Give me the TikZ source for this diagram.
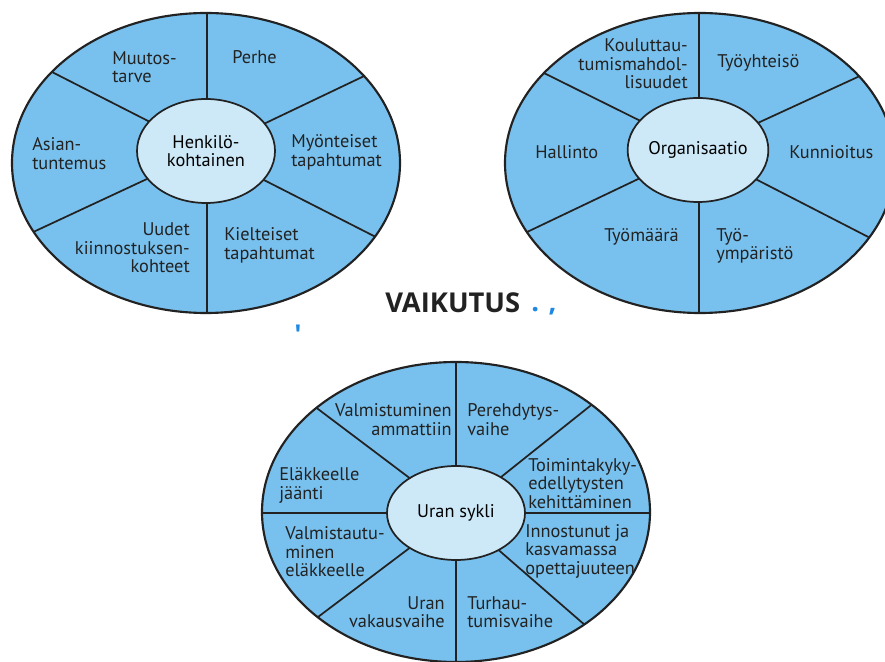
\documentclass[tikz,border=0pt]{standalone}
\usepackage{fontspec}
\setmainfont{PT Sans}
\newfontfamily\headfont{Open Sans}
\usetikzlibrary{shapes.geometric}
\definecolor{rimblue}{HTML}{78C1EE}
\definecolor{hubblue}{HTML}{CDE9F8}
\definecolor{inkgrey}{HTML}{222222}
\definecolor{dotblue}{HTML}{1E88E5}
\tikzstyle{rim}=[ellipse, draw=inkgrey, line width=1.6pt, fill=rimblue, inner sep=0pt]
\tikzstyle{hub}=[ellipse, draw=inkgrey, line width=1.3pt, fill=hubblue, inner sep=0pt, align=center, font=\fontsize{13.75}{13.9}\selectfont]
\tikzstyle{spoke}=[draw=inkgrey, line width=1.3pt]
\tikzstyle{sector}=[inner sep=0pt, font=\fontsize{13.75}{13.9}\selectfont, text=inkgrey]
\tikzstyle{sector left}=[sector, anchor=west, align=left]
\tikzstyle{sector right}=[sector, anchor=east, align=right]

\begin{document}
\begin{tikzpicture}[x=0.75pt, y=0.75pt]
      \clip (0, 0) rectangle (885, 661);
      \fill[white] (0, 0) rectangle (885, 661);

      % henkilokohtainen
      \node[rim, minimum width=291pt, minimum height=225pt] (ho) at (206, 498) {};
      \coordinate (hc) at (207, 510);
      \begin{scope}
        \clip (ho.center) ellipse [x radius=194, y radius=150];
        \foreach \a in {90, 25.5, -27, -90, 205, 153}
          \draw[spoke] (hc) -- +(\a:300);
      \end{scope}
      \node[hub, minimum width=103.5pt, minimum height=78pt] (hi) at (206, 510) {Henkilö-\\kohtainen};
      \node[sector left] (muutos) at (112, 594) {Muutos-\\tarve};
      \node[sector left] (perhe) at (232, 604) {Perhe};
      \node[sector left] (asian) at (32, 507.5) {Asian-\\tuntemus};
      \node[sector left] (myont) at (291, 508.5) {Myönteiset\\tapahtumat};
      \node[sector right] (uudet) at (190, 413) {Uudet\\kiinnostuksen-\\kohteet};
      \node[sector left] (kielt) at (224, 415.5) {Kielteiset\\tapahtumat};

      % organisaatio
      \node[rim, minimum width=292.5pt, minimum height=225pt] (oo) at (700, 498) {};
      \coordinate (oc) at (699, 511);
      \begin{scope}
        \clip (oo.center) ellipse [x radius=195, y radius=150];
        \foreach \a in {90, 24.7, -27.2, -90, 205.5, 153.6}
          \draw[spoke] (oc) -- +(\a:300);
      \end{scope}
      \node[hub, minimum width=103.5pt, minimum height=78pt] (oi) at (698, 511) {Organisaatio};
      \node[sector right] (koul) at (688, 597) {Kouluttau-\\tumismahdol-\\lisuudet};
      \node[sector left] (tyoyht) at (717, 598) {Työyhteisö};
      \node[sector left] (hall) at (535, 509) {Hallinto};
      \node[sector left] (kunn) at (789, 509) {Kunnioitus};
      \node[sector left] (tyomaara) at (604, 424) {Työmäärä};
      \node[sector left] (tyoymp) at (716, 415) {Työ-\\ympäristö};

      % uran sykli
      \node[rim, minimum width=291pt, minimum height=225pt] (uo) at (456, 149) {};
      \coordinate (uc) at (456, 148);
      \begin{scope}
        \clip (uo.center) ellipse [x radius=194, y radius=150];
        \foreach \a in {90, 38.6, 0, -41, -90, 217, 180, 143}
          \draw[spoke] (uc) -- +(\a:300);
      \end{scope}
      \node[hub, minimum width=103.5pt, minimum height=70.5pt] (ui) at (456, 148) {Uran sykli};
      \node[sector right] (valm) at (452, 241.5) {Valmistuminen\\ammattiin};
      \node[sector left] (pere) at (467, 241.5) {Perehdytys-\\vaihe};
      \node[sector left] (toim) at (528, 177.5) {Toimintakyky-\\edellytysten\\kehittäminen};
      \node[sector left] (inno) at (525, 110) {Innostunut ja\\kasvamassa\\opettajuuteen};
      \node[sector left] (turh) at (467, 49) {Turhau-\\tumisvaihe};
      \node[sector right] (vakaus) at (445, 49) {Uran\\vakausvaihe};
      \node[sector left] (elvalm) at (285, 109) {Valmistautu-\\minen\\eläkkeelle};
      \node[sector left] (eljaa) at (279, 175.5) {Eläkkeelle\\jäänti};

      % otsikko
      \node[anchor=west, inner sep=0pt, text=inkgrey, font=\headfont\bfseries\fontsize{20.5}{22}\selectfont] (vaik) at (385, 358) {VAIKUTUS};
      \node[anchor=west, inner sep=0pt, text=dotblue, font=\headfont\bfseries\fontsize{20.5}{22}\selectfont] (pilkku) at (531, 350) {. ,};
      \node[inner sep=0pt, text=dotblue, font=\headfont\bfseries\fontsize{20.5}{22}\selectfont] (tikki) at (298, 326) {'};
\end{tikzpicture}
\end{document}
